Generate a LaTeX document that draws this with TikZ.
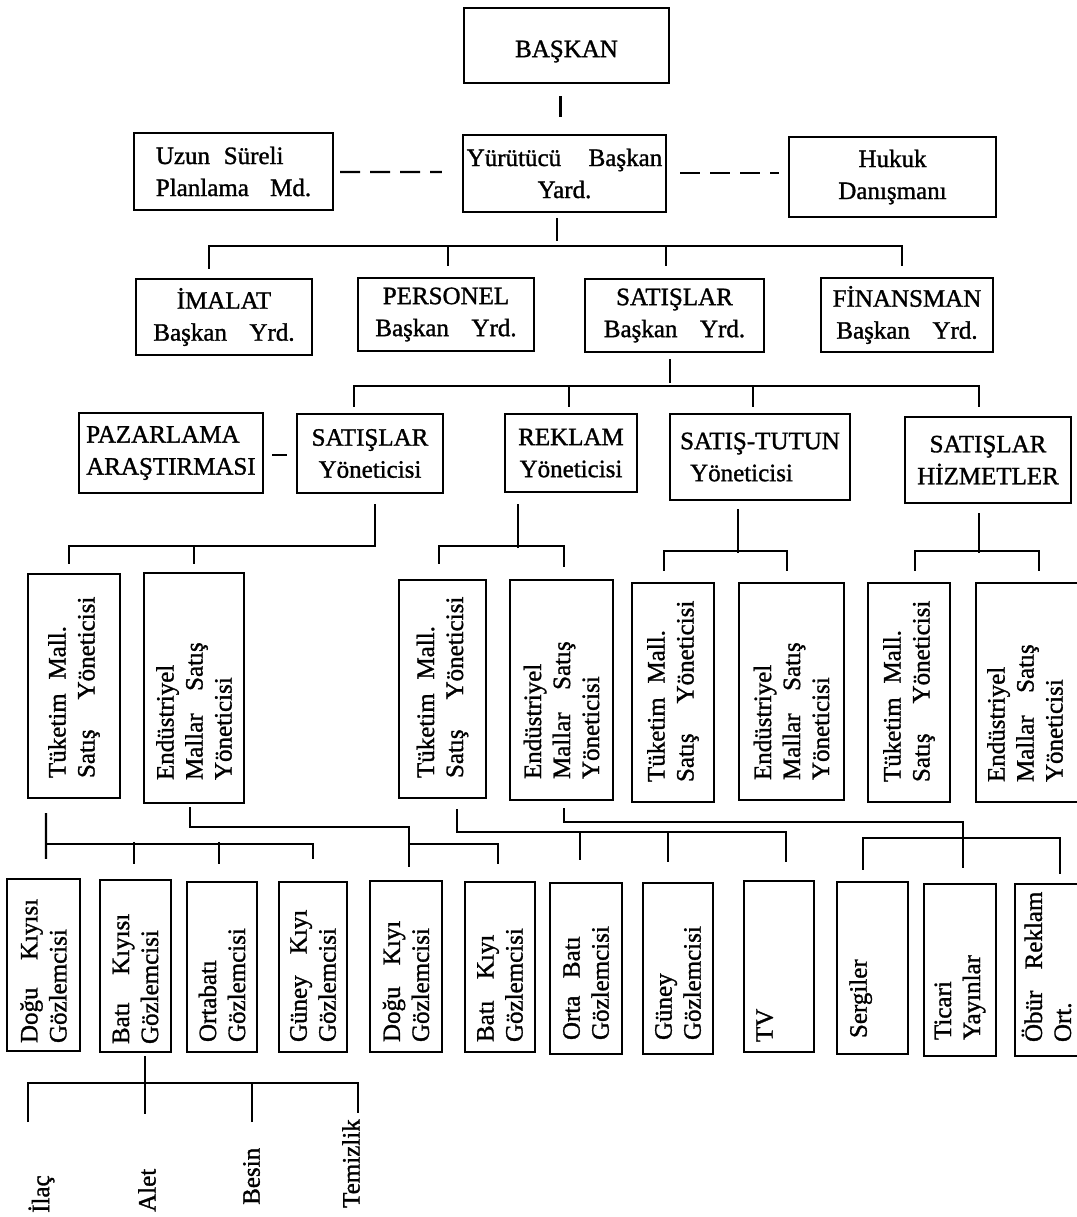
\documentclass[tikz,border=0pt]{standalone}
\usepackage{graphicx}
\usepackage{fontspec}
\setmainfont{Liberation Serif}[FakeBold=1.2]
\usetikzlibrary{calc}
\newcommand\vtxt[2]{\rotatebox{90}{\parbox{#1}{\raggedright\baselineskip=29bp\relax #2\par}}}
\newcommand\gap[1]{\kern#1em\relax}
\newcommand\dnshift[2]{\raisebox{-#1}[\height][\depth]{#2}}
\begin{document}
\begin{tikzpicture}[x=1bp,y=-1bp,
  every node/.style={font=\fontsize{25bp}{32bp}\selectfont},
  sz/.style 2 args={minimum width=#1bp,minimum height=#2bp},
  box/.style={draw,line width=2.4bp,inner sep=0pt,align=center},
  lbox/.style={box,align=left},
  vbox/.style={draw,line width=2.4bp,inner sep=0pt},
  vtext/.style={inner sep=0pt},
  lbl/.style={inner sep=0pt,rotate=90,anchor=west},
  ln/.style={line width=2.4bp},
  dsh/.style={line width=2.4bp,dash pattern=on 20bp off 10bp}]
\fill[white] (0,0) rectangle (1077,1217);
\useasboundingbox (0,0) rectangle (1077,1217);

% row 0 / 1
\node[box,sz={205}{75}] (baskan) at (566.5,45.5) {\dnshift{6bp}{BAŞKAN}};
\node[lbox,sz={199}{77}] (uzun) at (233.5,171.5) {Uzun\gap{0.55}Süreli\\Planlama\gap{0.85}Md.};
\node[box,sz={203}{77}] (yurutucu) at (564.5,173.5) {Yürütücü\gap{1.1}Başkan\\Yard.};
\node[box,sz={207}{80}] (hukuk) at (892.5,177) {Hukuk\\Danışmanı};

% row 2
\node[box,sz={176}{76}] (imalat) at (224,317) {İMALAT\\Başkan\gap{0.9}Yrd.};
\node[box,sz={176}{73}] (personel) at (446,314.5) {PERSONEL\\Başkan\gap{0.9}Yrd.};
\node[box,sz={179}{73}] (satislar) at (674.5,315.5) {SATIŞLAR\\Başkan\gap{0.9}Yrd.};
\node[box,sz={172}{74}] (finansman) at (907,315) {FİNANSMAN\\Başkan\gap{0.9}Yrd.};

% row 3
\node[lbox,sz={184}{80}] (pazar) at (171,453) {PAZARLAMA\\ARAŞTIRMASI};
\node[box,sz={146}{79}] (satyon) at (370,453.5) {SATIŞLAR\\Yöneticisi};
\node[box,sz={132}{78}] (reklam) at (571,453) {REKLAM\\Yöneticisi};
\node[lbox,sz={180}{86}] (tutun) at (760,457) {SATIŞ-TUTUN\\\gap{0.4}Yöneticisi};
\node[box,sz={166}{86}] (hizmet) at (988,460) {SATIŞLAR\\HİZMETLER};

% row 4
\node[vbox,sz={92}{224}] (tuk1) at (74,686) {\vtxt{184bp}{Tüketim\gap{0.55}Mall.\\Satış\gap{1.2}Yöneticisi}};
\node[vbox,sz={100}{230}] (end1) at (194,688) {\vtxt{184bp}{Endüstriyel\\Mallar\gap{0.9}Satış\\Yöneticisi}};
\node[vbox,sz={87}{218}] (tuk2) at (442.5,689) {\vtxt{178bp}{Tüketim\gap{0.55}Mall.\\Satış\gap{1.2}Yöneticisi}};
\node[vbox,sz={103}{220}] (end2) at (561.5,690) {\vtxt{178bp}{Endüstriyel\\Mallar\gap{0.9}Satış\\Yöneticisi}};
\node[vbox,sz={82}{219}] (tuk3) at (673,692.5) {\vtxt{179bp}{Tüketim\gap{0.55}Mall.\\Satış\gap{1.2}Yöneticisi}};
\node[vbox,sz={105}{217}] (end3) at (791.5,691.5) {\vtxt{177bp}{Endüstriyel\\Mallar\gap{0.9}Satış\\Yöneticisi}};
\node[vbox,sz={82}{219}] (tuk4) at (909,692.5) {\vtxt{179bp}{Tüketim\gap{0.55}Mall.\\Satış\gap{1.2}Yöneticisi}};
\node[vbox,sz={114}{219}] (end4) at (1033,692.5) {};
\node[vtext] (end4t) at ($(end4.center)+(-8,0)$) {\vtxt{179bp}{Endüstriyel\\Mallar\gap{0.9}Satış\\Yöneticisi}};

% row 5
\node[vbox,sz={73}{172}] (dk1) at (43.5,965) {\vtxt{156bp}{Doğu\gap{1.1}Kıyısı\\Gözlemcisi}};
\node[vbox,sz={71}{172}] (bk1) at (135.5,966) {\vtxt{156bp}{Batı\gap{1.1}Kıyısı\\Gözlemcisi}};
\node[vbox,sz={70}{170}] (orta1) at (222,967) {\vtxt{150bp}{Ortabatı\\Gözlemcisi}};
\node[vbox,sz={68}{170}] (guney1) at (313,967) {\vtxt{150bp}{Güney\gap{0.85}Kıyı\\Gözlemcisi}};
\node[vbox,sz={72}{171}] (dk2) at (406,966.5) {\vtxt{151bp}{Doğu\gap{0.85}Kıyı\\Gözlemcisi}};
\node[vbox,sz={70}{170}] (bk2) at (500,967) {\vtxt{150bp}{Batı\gap{0.85}Kıyı\\Gözlemcisi}};
\node[vbox,sz={72}{171}] (orta2) at (586,968.5) {\vtxt{143bp}{Orta\gap{0.7}Batı\\Gözlemcisi}};
\node[vbox,sz={70}{171}] (guney2) at (678,968.5) {\vtxt{143bp}{Güney\\Gözlemcisi}};
\node[vbox,sz={70}{171}] (tv) at (779,966.5) {\vtxt{151bp}{TV\\\mbox{}}};
\node[vbox,sz={71}{172}] (sergi) at (872.5,968) {\vtxt{140bp}{Sergiler\\\mbox{}}};
\node[vbox,sz={72}{172}] (ticari) at (960,970) {\vtxt{140bp}{Ticari\\Yayınlar}};
\node[vbox,sz={75}{172}] (obur) at (1052.5,970) {};
\node[vtext] (oburt) at ($(obur.center)+(-6,0)$) {\vtxt{144bp}{Öbür\gap{0.85}Reklam\\Ort.}};

% labels
\node[lbl] (ilac) at (41.5,1213) {İlaç};
\node[lbl] (alet) at (147,1212) {Alet};
\node[lbl] (besin) at (251.5,1205) {Besin};
\node[lbl] (temizlik) at (351,1208) {Temizlik};

% connectors top
\draw[ln] ($(baskan.south)+(-6,12)$) -- ($(yurutucu.north)+(-4,-17)$);
\draw[dsh] ($(uzun.east)+(6,0.5)$) -- ($(yurutucu.west)+(-20,-1.5)$);
\draw[dsh] ($(yurutucu.east)+(13,-0.5)$) -- ($(hukuk.west)+(-9,-4)$);

\draw[ln] ($(yurutucu.south)+(-7.5,5)$) -- ++(0,23);
\draw[ln] ($(imalat.north)+(-15,-9)$) |- ($(finansman.north)+(-5,-31)$) -- ++(0,20);
\draw[ln] ($(personel.north)+(2,-31)$) -- ++(0,20);
\draw[ln] ($(satislar.north)+(-8.5,-32)$) -- ++(0,20);

% SATISLAR -> row 3
\draw[ln] ($(satislar.south)+(-4.5,6)$) -- ++(0,24);
\draw[ln] ($(satyon.north)+(-16,-6)$) |- ($(hizmet.north)+(-9,-30)$) -- ++(0,21);
\draw[ln] ($(reklam.north)+(-2,-27)$) -- ++(0,21);
\draw[ln] ($(tutun.north)+(-7,-27)$) -- ++(0,21);
\draw[ln] ($(pazar.east)+(8,2)$) -- ++(15,0);

% row 3 -> row 4
\draw[ln] ($(satyon.south)+(5,10)$) |- ($(tuk1.north)+(-5,-27)$) -- ++(0,18);
\draw[ln] ($(end1.north)+(0,-26)$) -- ++(0,18);
\draw[ln] ($(reklam.south)+(-53,11)$) -- ++(0,44);
\draw[ln] ($(tuk2.north)+(-3.5,-15)$) |- ($(end2.north)+(2.5,-33)$) -- ++(0,21);
\draw[ln] ($(tutun.south)+(-22,8)$) -- ++(0,44);
\draw[ln] ($(tuk3.north)+(-9,-11)$) |- ($(end3.north)+(-4.5,-31)$) -- ++(0,20);
\draw[ln] ($(hizmet.south)+(-9,9)$) -- ++(0,40);
\draw[ln] ($(tuk4.north)+(6,-11)$) |- ($(end4.north)+(6,-31)$) -- ++(0,20);

% row 4 -> row 5
\draw[ln] ($(tuk1.south)+(-28,14)$) -- ($(dk1.north)+(2.5,-19)$);
\draw[ln] ($(tuk1.south)+(-28,45)$) -| ($(guney1.north)+(0,-22)$);
\draw[ln] ($(bk1.north)+(-1.5,-37)$) -- ++(0,22);
\draw[ln] ($(orta1.north)+(-3,-39)$) -- ++(0,22);

\draw[ln] ($(end1.south)+(-4,3)$) |- ($(dk2.north)+(3,-53)$) -- ($(dk2.north)+(3,-13)$);
\draw[ln] ($(dk2.north)+(3,-36)$) -| ($(bk2.north)+(-2,-17)$);

\draw[ln] ($(tuk2.south)+(14.5,10)$) |- ($(tv.north)+(7,-48)$) -- ($(tv.north)+(7,-18)$);
\draw[ln] ($(orta2.north)+(-6,-50)$) -- ++(0,28);
\draw[ln] ($(guney2.north)+(-10,-50)$) -- ++(0,30);

\draw[ln] ($(end2.south)+(2.5,7)$) |- ($(ticari.north)+(3,-61)$) -- ($(ticari.north)+(3,-15)$);
\draw[ln] ($(sergi.north)+(-9.5,-11)$) |- ($(obur.north)+(7.5,-45)$) -- ++(0,36);

% row 5 -> labels
\draw[ln] ($(bk1.south)+(9.5,3)$) -- ++(0,58);
\draw[ln] ($(ilac.west)+(-13.5,-91)$) |- ($(temizlik.west)+(7,-125)$) -- ++(0,30);
\draw[ln] ($(besin.west)+(0.5,-83)$) -- ++(0,-39);
\end{tikzpicture}
\end{document}
